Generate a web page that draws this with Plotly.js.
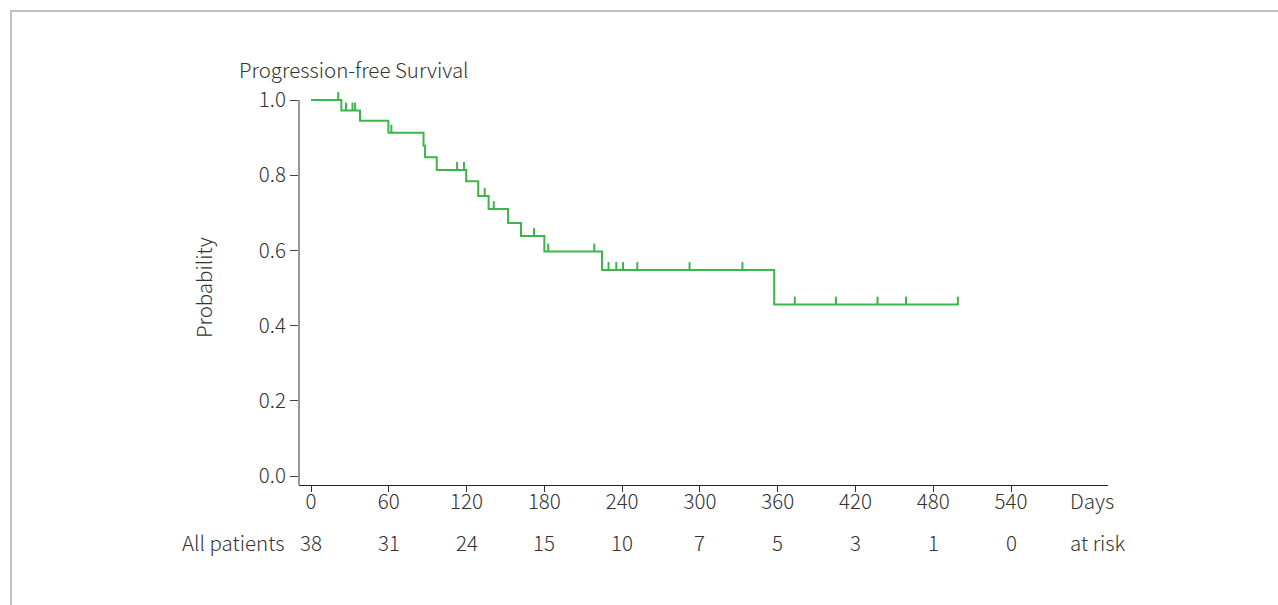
<!DOCTYPE html>
<html>
<head>
<meta charset="utf-8">
<script src="https://cdn.plot.ly/plotly-3.0.1.min.js"></script>
<style>
  html, body { margin: 0; padding: 0; background: #fff; overflow: hidden; }
  #chart { position: absolute; left: 0; top: 0; width: 1278px; height: 605px; }
  #frame { position: absolute; left: 10px; top: 10px; width: 1300px; height: 640px;
           border-top: 2px solid #c2c2c2; border-left: 2px solid #c2c2c2; pointer-events: none; }
</style>
</head>
<body>
<div id="chart"></div>
<div id="frame"></div>
<script>
// ---- data ----
const eventTimes = [0, 23.4, 37.8, 59.7, 86.8, 88, 97, 119.7, 129, 137, 152, 162, 180, 224.5, 357.3, 499.6];
const survival   = [1.0, 0.972, 0.945, 0.913, 0.878, 0.848, 0.814, 0.784, 0.745, 0.710, 0.673, 0.638, 0.597, 0.548, 0.456, 0.456];
const censorTimes = [21, 27, 32, 34, 62, 112.7, 118, 134, 141, 172, 183, 218.5, 229.5, 235.5, 240.7, 251.7, 292, 332.8, 373.2, 404.9, 437, 459, 499];
const xTicks = [0, 60, 120, 180, 240, 300, 360, 420, 480, 540];
const atRisk = [38, 31, 24, 15, 10, 7, 5, 3, 1, 0];
const yTicks = [0, 0.2, 0.4, 0.6, 0.8, 1.0];
const yTickText = ['0.0', '0.2', '0.4', '0.6', '0.8', '1.0'];

// ---- styling ----
const GREEN = '#3cb54a';
const FONT = 'Noto Sans CJK JP, Noto Sans, sans-serif';
const FS = 20.5;
const TXT = '#333333';
const censorH = 0.021;
const fnt = () => ({ family: FONT, size: FS, color: TXT, weight: 300 });

function levelAt(t) {
  let s = survival[0];
  for (let i = 0; i < eventTimes.length; i++) { if (eventTimes[i] <= t) s = survival[i]; }
  return s;
}
const cx = [], cy = [];
censorTimes.forEach(t => { const s = levelAt(t); cx.push(t, t, null); cy.push(s, s + censorH, null); });

const traces = [
  { x: eventTimes, y: survival, type: 'scatter', mode: 'lines', line: { shape: 'hv', color: GREEN, width: 2 }, hoverinfo: 'skip', showlegend: false },
  { x: cx, y: cy, type: 'scatter', mode: 'lines', line: { color: GREEN, width: 2 }, hoverinfo: 'skip', showlegend: false }
];

const plotBottomPx = 485, plotTopPx = 89;
const plotH = plotBottomPx - plotTopPx;
const paperY = px => (plotBottomPx - px) / plotH;

const annotations = [
  { text: 'Probability', xref: 'paper', yref: 'paper', x: (203 - 299) / 809, y: paperY(288), textangle: -90,
    showarrow: false, xanchor: 'center', yanchor: 'middle', font: fnt() },
  { text: 'Days', xref: 'paper', yref: 'paper', x: (1068 - 299) / 809, y: paperY(500), showarrow: false,
    xanchor: 'left', yanchor: 'middle', font: fnt() },
  { text: 'at risk', xref: 'paper', yref: 'paper', x: (1068 - 299) / 809, y: paperY(542), showarrow: false,
    xanchor: 'left', yanchor: 'middle', font: fnt() },
  { text: 'All patients', xref: 'paper', yref: 'paper', x: (286 - 299) / 809, y: paperY(542), showarrow: false,
    xanchor: 'right', yanchor: 'middle', font: fnt() }
];
xTicks.forEach((t, i) => {
  annotations.push({ text: String(atRisk[i]), xref: 'x', yref: 'paper', x: t, y: paperY(542), showarrow: false,
    xanchor: 'center', yanchor: 'middle', font: fnt() });
});

const layout = {
  width: 1278, height: 605,
  margin: { l: 299, r: 170, t: plotTopPx, b: 605 - plotBottomPx, pad: 0 },
  paper_bgcolor: '#ffffff', plot_bgcolor: '#ffffff',
  font: fnt(),
  title: { text: 'Progression-free Survival', xref: 'container', yref: 'container', x: 239 / 1278, xanchor: 'left',
           y: 1 - 71 / 605, yanchor: 'middle', font: fnt() },
  xaxis: { range: [-9.26, 614.8], tickvals: xTicks, ticktext: xTicks.map(String), ticks: 'outside', ticklen: 6,
           tickcolor: '#333', showline: true, linecolor: '#222', linewidth: 1, showgrid: false, zeroline: false,
           ticklabelstandoff: -8, tickfont: fnt(), fixedrange: true },
  yaxis: { range: [-9 / 376, 1 + 11 / 376], tickvals: yTicks, ticktext: yTickText, ticks: 'outside', ticklen: 8,
           tickcolor: '#444', showline: false, showgrid: false, zeroline: false,
           tickfont: fnt(), fixedrange: true },
  shapes: [
    { type: 'line', xref: 'paper', yref: 'y', x0: 0, x1: 0, y0: -9 / 376, y1: 1.0, line: { color: '#333', width: 1 } }
  ],
  annotations: annotations,
  showlegend: false
};

Plotly.newPlot('chart', traces, layout, { displayModeBar: false, staticPlot: true });
</script>
</body>
</html>
